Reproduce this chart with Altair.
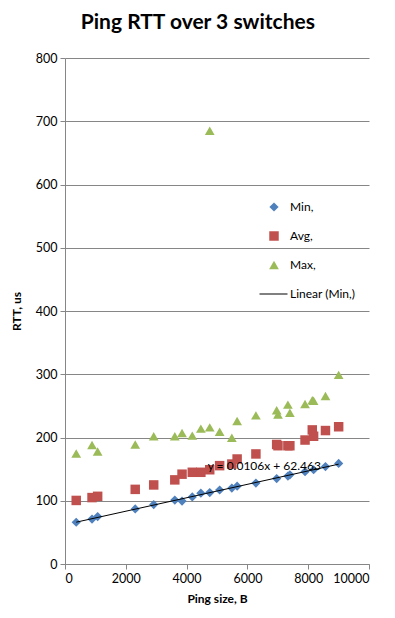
import altair as alt
import pandas as pd

series_names = ["Min,", "Avg,", "Max,", "Linear (Min,)"]
series_colors = ["#4f81bd", "#c0504d", "#9bbb59", "#000000"]
series_shapes = ["diamond", "square", "triangle-up", "M-2.9,-0.1H2.7V0.1H-2.9Z"]
series_sizes = [85, 100, 115, 50]

min_x = [369, 889, 1074, 2310, 2918, 3612, 3850, 4187, 4469, 4761, 5087, 5488, 5662,
         6280, 6963, 7332, 7397, 7896, 8178, 8568, 9002]
min_y = [66, 71, 75, 87, 94, 101, 99.5, 106, 112, 113, 117, 120, 123,
         128, 135, 139, 141, 146, 149, 154, 159]
avg_x = [369, 889, 1074, 2310, 2918, 3612, 3850, 4187, 4469, 4761, 5087, 5488, 5662,
         6280, 6963, 7006, 7332, 7397, 7896, 8134, 8178, 8568, 9002]
avg_y = [100.5, 105, 107, 118, 125, 133, 142, 145, 145, 149, 155.5, 158, 166,
         174, 189, 187, 187, 187, 196, 212, 202, 211, 217]
max_x = [369, 889, 1074, 2310, 2918, 3612, 3850, 4187, 4469, 4761, 4761, 5087, 5488,
         5662, 6280, 6963, 7006, 7332, 7397, 7896, 8134, 8178, 8568, 9002]
max_y = [174.6, 188, 178, 189, 202, 202, 207, 203, 214, 216, 685, 209, 199.5,
         226, 235, 243, 236.5, 252, 239, 253, 259, 258, 265.6, 299]

eq_text = ["y = 0.0106x + 62.463"]
eq_x = [6556]
eq_y = [155.6]

x_ticks = [0, 2000, 4000, 6000, 8000, 10000]
y_ticks = [0, 100, 200, 300, 400, 500, 600, 700, 800]

rows = []
for name, xs, ys in [("Min,", min_x, min_y), ("Avg,", avg_x, avg_y), ("Max,", max_x, max_y)]:
    for a, b in zip(xs, ys):
        rows.append({"x": a, "y": b, "series": name})
df = pd.DataFrame(rows)
df_min = pd.DataFrame({"x": min_x, "y": min_y})
df_eq = pd.DataFrame({"x": eq_x, "y": eq_y, "t": eq_text})

FONT = "Lato"
GRAY = "#868686"

xenc = alt.X("x:Q", scale=alt.Scale(domain=[0, 10000], nice=False),
             axis=alt.Axis(values=x_ticks, title="Ping size, B", grid=False, format="d"))
yenc = alt.Y("y:Q", scale=alt.Scale(domain=[0, 800], nice=False),
             axis=alt.Axis(values=y_ticks, title="RTT, us", grid=True, format="d"))

points = alt.Chart(df).mark_point(filled=True, opacity=1, strokeWidth=0).encode(
    x=xenc,
    y=yenc,
    color=alt.Color("series:N", scale=alt.Scale(domain=series_names, range=series_colors),
                    legend=alt.Legend(title=None, orient="none", legendX=203, legendY=143,
                                      symbolSize=50, labelFont=FONT, labelFontSize=12,
                                      labelColor="#000000", rowPadding=17, labelOffset=10,
                                      padding=0, symbolStrokeWidth=0)),
    shape=alt.Shape("series:N", scale=alt.Scale(domain=series_names, range=series_shapes)),
    size=alt.Size("series:N", scale=alt.Scale(domain=series_names, range=series_sizes), legend=None),
)

trend = alt.Chart(df_min).transform_regression("x", "y").mark_line(
    color="black", strokeWidth=1).encode(x="x:Q", y="y:Q")

eq = alt.Chart(df_eq).mark_text(font=FONT, fontSize=12, color="#000000",
                                align="center", baseline="middle").encode(
    x="x:Q", y="y:Q", text="t:N")

chart = alt.layer(points, trend, eq).properties(
    width=304, height=506,
    autosize=alt.AutoSizeParams(type="none"),
    padding={"left": 57, "top": 50, "right": 18, "bottom": 44},
    title=alt.TitleParams("Ping RTT over 3 switches", font=FONT, fontSize=21,
                          fontWeight="bold", color="#000000", anchor="middle",
                          frame="bounds", offset=19, dx=8),
).configure_view(stroke=None).configure_axis(
    labelFont=FONT, labelFontSize=12.5, labelColor="#000000",
    titleFont=FONT, titleFontSize=12, titleFontWeight="bold", titleColor="#000000",
    domainColor=GRAY, tickColor=GRAY, gridColor=GRAY, tickSize=5, labelPadding=3,
).configure_axisY(titlePadding=12).configure_axisX(titlePadding=9)

chart.save("out.html", embed_options={"renderer": "svg", "actions": False})
